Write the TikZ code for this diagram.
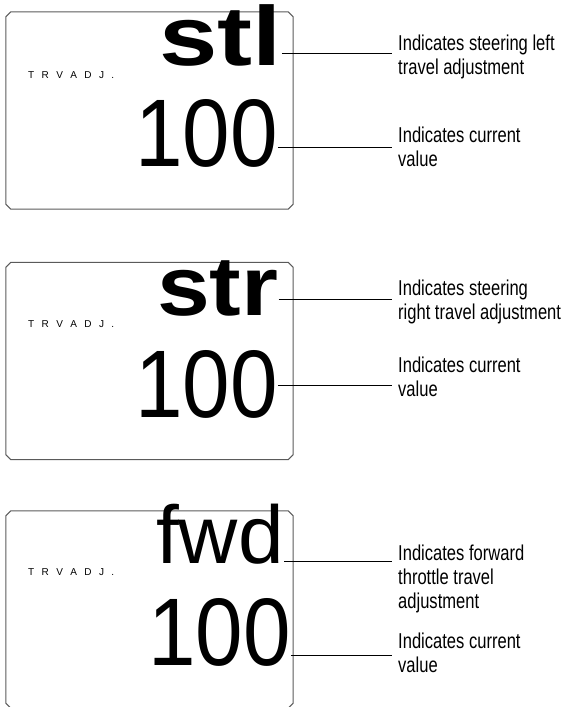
\documentclass[tikz,border=0pt]{standalone}
\usepackage{fontspec}
\setmainfont{Liberation Sans}
\newfontfamily\modefont{Liberation Sans}[FakeStretch=1.25]
\newfontfamily\modenarrow{Liberation Sans}[FakeStretch=1.13]
\newfontfamily\numfont{Liberation Sans}[FakeStretch=0.89]
\newfontfamily\notefont{Liberation Sans}[FakeStretch=0.77]
\newcommand\widegap{\spaceskip=7.4pt\relax}
\definecolor{frame}{HTML}{5A5A5A}

\begin{document}
\begin{tikzpicture}[x=1pt, y=-1pt,
  lcd/.style={rectangle, minimum width=287pt, minimum height=197pt, inner sep=0pt},
  rim/.style={draw=frame, line width=1pt},
  mode/.style={anchor=base west, inner sep=0pt, font=\modefont\bfseries\fontsize{84}{84}\selectfont},
  plain/.style={anchor=base west, inner sep=0pt, font=\fontsize{82}{82}\selectfont},
  num/.style={anchor=base west, inner sep=0pt, font=\numfont\fontsize{96}{96}\selectfont},
  tag/.style={anchor=base west, inner sep=0pt, font=\fontsize{10}{10}\selectfont\widegap},
  note/.style={anchor=north west, inner sep=0pt, align=left, font=\notefont\fontsize{21.5}{24}\selectfont},
  line/.style={draw=black, line width=0.9pt}]
\useasboundingbox (0,0) rectangle (567,707);
% displays
\node[lcd] (lcda) at (149.5,110.5) {};
\node[lcd] (lcdb) at (149.5,361) {};
\node[lcd] (lcdc) at (149.5,609.5) {};
\foreach \d in {lcda,lcdb,lcdc}
  \draw[rim] ([xshift=5pt]\d.north west) -- ([xshift=-5pt]\d.north east) -- ([yshift=-5pt]\d.north east)
    -- ([yshift=5pt]\d.south east) -- ([xshift=-5pt]\d.south east) -- ([xshift=5pt]\d.south west)
    -- ([yshift=5pt]\d.south west) -- ([yshift=-5pt]\d.north west) -- cycle;
\node[tag] (taga) at (28,78) {T R V A D J .};
\node[tag] (tagb) at (28,327) {T R V A D J .};
\node[tag] (tagc) at (28,575) {T R V A D J .};
\node[mode] (stl) at (159,65) {stl};
\node[mode, font=\modenarrow\bfseries\fontsize{84}{84}\selectfont] (str) at (157,315) {str};
\node[plain] (fwd) at (156,563) {fwd};
\node[num] (vala) at (135,166) {100};
\node[num] (valb) at (135,417) {100};
\node[num] (valc) at (148,665) {100};
% notes
\node[note] (notea) at (398,35) {Indicates steering left\\travel adjustment};
\node[note] (noteb) at (398,127) {Indicates current\\value};
\node[note] (notec) at (398,280) {Indicates steering\\right travel adjustment};
\node[note] (noted) at (398,357) {Indicates current\\value};
\node[note] (notee) at (398,545) {Indicates forward\\throttle travel\\adjustment};
\node[note] (notef) at (398,633) {Indicates current\\value};
% leaders
\coordinate (enda) at (392,53);
\coordinate (endb) at (392,147);
\coordinate (endc) at (392,299);
\coordinate (endd) at (392,385);
\coordinate (ende) at (392,561);
\coordinate (endf) at (392,655);
\draw[line] (enda -| stl.east) -- (enda);
\draw[line] (endb -| vala.east) -- (endb);
\draw[line] (endc -| str.east) -- (endc);
\draw[line] (endd -| valb.east) -- (endd);
\draw[line] (ende -| fwd.east) -- (ende);
\draw[line] (endf -| valc.east) -- (endf);
\end{tikzpicture}
\end{document}
